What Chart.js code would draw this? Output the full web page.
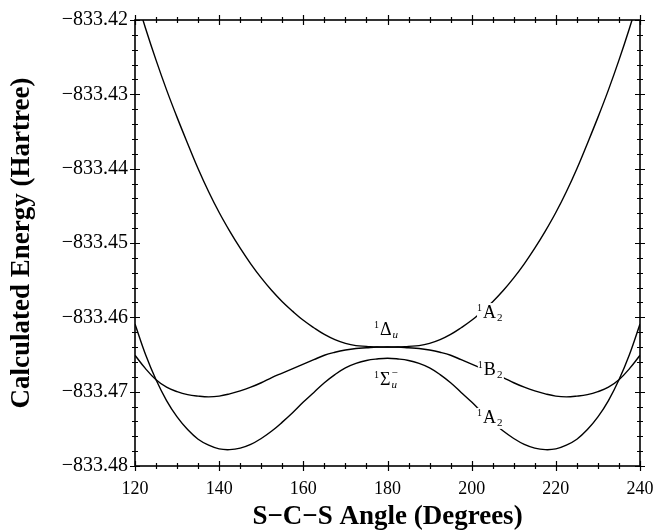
<!DOCTYPE html>
<html>
<head>
<meta charset="utf-8">
<script src="https://cdn.jsdelivr.net/npm/chart.js@4.4.1/dist/chart.umd.min.js"></script>
<style>
  html, body { margin: 0; padding: 0; background: #fff; }
  #c { display: block; }
</style>
</head>
<body>
<canvas id="c" width="656" height="531"></canvas>
<script>
// ---- data ----
const angles = [120,122.5,125,127.5,130,132.5,135,137.5,140,142.5,145,147.5,150,152.5,155,157.5,160,162.5,165,167.5,170,172.5,175,177.5,180,
                182.5,185,187.5,190,192.5,195,197.5,200,202.5,205,207.5,210,212.5,215,217.5,220,222.5,225,227.5,230,232.5,235,237.5,240];

// upper 1A2 (from 1Δu)
const energyUpperA2 = [-833.4165,-833.4211,-833.4254,-833.4294,-833.4331,-833.4366,-833.4400,-833.4431,-833.4459,-833.4484,-833.4507,-833.4528,-833.4547,-833.4564,-833.4579,-833.4592,-833.4604,-833.4614,-833.4623,-833.4630,-833.4635,-833.4638,-833.4639,-833.4640,-833.4640,
                       -833.4640,-833.4639,-833.4638,-833.4635,-833.4630,-833.4623,-833.4614,-833.4604,-833.4592,-833.4579,-833.4564,-833.4547,-833.4528,-833.4507,-833.4484,-833.4459,-833.4431,-833.4400,-833.4366,-833.4331,-833.4294,-833.4254,-833.4211,-833.4165];

// 1B2 (from 1Δu)
const energyB2 = [-833.4651,-833.4669,-833.4684,-833.4694,-833.4700,-833.4704,-833.4706,-833.4707,-833.4706,-833.4703,-833.4699,-833.4694,-833.4688,-833.4681,-833.4675,-833.4669,-833.4663,-833.4657,-833.4651,-833.4647,-833.4644,-833.4642,-833.4641,-833.4640,-833.4640,
                  -833.4640,-833.4641,-833.4642,-833.4644,-833.4647,-833.4651,-833.4657,-833.4663,-833.4669,-833.4675,-833.4681,-833.4688,-833.4694,-833.4699,-833.4703,-833.4706,-833.4707,-833.4706,-833.4704,-833.4700,-833.4694,-833.4684,-833.4669,-833.4651];

// lower 1A2 (from 1Σu-)
const energyLowerA2 = [-833.4609,-833.4650,-833.4684,-833.4712,-833.4734,-833.4751,-833.4764,-833.4772,-833.4777,-833.4778,-833.4776,-833.4771,-833.4763,-833.4753,-833.4741,-833.4728,-833.4714,-833.4701,-833.4688,-833.4677,-833.4668,-833.4662,-833.4658,-833.4656,-833.4655,
                       -833.4656,-833.4658,-833.4662,-833.4668,-833.4677,-833.4688,-833.4701,-833.4714,-833.4728,-833.4741,-833.4753,-833.4763,-833.4771,-833.4776,-833.4778,-833.4777,-833.4772,-833.4764,-833.4751,-833.4734,-833.4712,-833.4684,-833.4650,-833.4609];

const xTicks = [120,140,160,180,200,220,240];
const yTicks = [-833.48,-833.47,-833.46,-833.45,-833.44,-833.43,-833.42];
const xMinorStep = 5;
const yMinorStep = 0.002;

// state labels: anchor = data coords of baseline-left of main glyph
const stateLabels = [
  { x: 202.7, y: -833.4601, main: 'A', sub: '2', subItalic: false, sup2: '' },
  { x: 202.9, y: -833.4678, main: 'B', sub: '2', subItalic: false, sup2: '' },
  { x: 202.7, y: -833.4742, main: 'A', sub: '2', subItalic: false, sup2: '' },
  { x: 178.2, y: -833.4624, main: 'Δ', sub: 'u', subItalic: true, sup2: '' },
  { x: 178.2, y: -833.4691, main: 'Σ', sub: 'u', subItalic: true, sup2: '−' }
];

const SERIF = '"Liberation Serif", "Times New Roman", serif';

const labelPlugin = {
  id: 'stateLabels',
  afterDatasetsDraw(chart) {
    const { ctx, scales: { x, y } } = chart;
    ctx.save();
    ctx.textBaseline = 'alphabetic';
    ctx.textAlign = 'left';
    stateLabels.forEach(l => {
      const px = x.getPixelForValue(l.x);
      const py = y.getPixelForValue(l.y);
      ctx.font = '18px ' + SERIF;
      const mw = ctx.measureText(l.main).width;
      ctx.fillStyle = '#fff';
      ctx.fillRect(px - 6, py - 15, mw + 14, 21);
      ctx.fillStyle = '#000';
      ctx.fillText(l.main, px, py);
      ctx.font = '10px ' + SERIF;
      ctx.fillText('1', px - 6, py - 7);
      ctx.font = (l.subItalic ? 'italic ' : '') + '11px ' + SERIF;
      ctx.fillText(l.sub, px + mw + 1, py + 3);
      if (l.sup2) {
        ctx.font = '11px ' + SERIF;
        ctx.fillText(l.sup2, px + mw + 1, py - 9);
      }
    });
    ctx.restore();
  }
};

const framePlugin = {
  id: 'frame',
  afterDraw(chart) {
    const { ctx, chartArea: a, scales: { x, y } } = chart;
    ctx.save();
    ctx.strokeStyle = '#000';
    ctx.lineWidth = 1.6;
    ctx.strokeRect(a.left, a.top, a.right - a.left, a.bottom - a.top);
    ctx.lineWidth = 1.2;
    ctx.beginPath();
    const x0 = xTicks[0], x1 = xTicks[xTicks.length - 1];
    for (let v = x0; v <= x1 + 1e-9; v += xMinorStep) {
      const px = Math.round(x.getPixelForValue(v)) + 0.5;
      const major = xTicks.some(t => Math.abs(t - v) < 1e-6);
      const L = major ? 5 : 3;
      ctx.moveTo(px, a.bottom - L); ctx.lineTo(px, a.bottom + L);
      ctx.moveTo(px, a.top - L); ctx.lineTo(px, a.top + L);
    }
    const y0 = yTicks[0], y1 = yTicks[yTicks.length - 1];
    const n = Math.round((y1 - y0) / yMinorStep);
    for (let i = 0; i <= n; i++) {
      const v = y0 + i * yMinorStep;
      const py = Math.round(y.getPixelForValue(v)) + 0.5;
      const major = yTicks.some(t => Math.abs(t - v) < 1e-6);
      const L = major ? 5 : 3;
      ctx.moveTo(a.left - L, py); ctx.lineTo(a.left + L, py);
      ctx.moveTo(a.right - L, py); ctx.lineTo(a.right + L, py);
    }
    ctx.stroke();
    ctx.restore();
  }
};

function series(vals) {
  return angles.map((a, i) => ({ x: a, y: vals[i] }));
}
const lineStyle = {
  borderColor: '#000',
  borderWidth: 1.4,
  pointRadius: 0,
  fill: false,
  tension: 0.4
};

new Chart(document.getElementById('c'), {
  type: 'line',
  data: {
    datasets: [
      Object.assign({ label: '1A2 (upper)', data: series(energyUpperA2) }, lineStyle),
      Object.assign({ label: '1B2', data: series(energyB2) }, lineStyle),
      Object.assign({ label: '1A2 (lower)', data: series(energyLowerA2) }, lineStyle)
    ]
  },
  options: {
    responsive: false,
    animation: false,
    events: [],
    layout: { padding: { left: 0, right: 16, top: 20, bottom: 0 } },
    plugins: { legend: { display: false }, tooltip: { enabled: false } },
    scales: {
      x: {
        type: 'linear',
        min: 120, max: 240,
        afterBuildTicks: s => { s.ticks = xTicks.map(v => ({ value: v })); },
        afterFit: s => { s.height = 65; s.paddingLeft = 0; s.paddingRight = 0; },
        grid: { display: false, drawTicks: false },
        border: { display: false },
        ticks: {
          color: '#000', padding: 12, maxRotation: 0, autoSkip: false,
          font: { family: SERIF, size: 18 },
          callback: v => String(v)
        },
        title: {
          display: true, text: 'S−C−S Angle (Degrees)', color: '#000',
          font: { family: SERIF, size: 27, weight: 'bold', lineHeight: 1 },
          padding: { top: 0, bottom: 0 }
        }
      },
      y: {
        type: 'linear',
        min: -833.48, max: -833.42,
        afterBuildTicks: s => { s.ticks = yTicks.map(v => ({ value: v })); },
        afterFit: s => { s.width = 135; s.paddingTop = 0; s.paddingBottom = 0; },
        grid: { display: false, drawTicks: false },
        border: { display: false },
        ticks: {
          color: '#000', padding: 7, autoSkip: false,
          font: { family: SERIF, size: 20 },
          callback: v => '−' + Math.abs(v).toFixed(2)
        },
        title: {
          display: true, text: 'Calculated Energy (Hartree)', color: '#000',
          font: { family: SERIF, size: 27, weight: 'bold', lineHeight: 1 },
          padding: { top: 9, bottom: 0 }
        }
      }
    }
  },
  plugins: [labelPlugin, framePlugin]
});
</script>
</body>
</html>
